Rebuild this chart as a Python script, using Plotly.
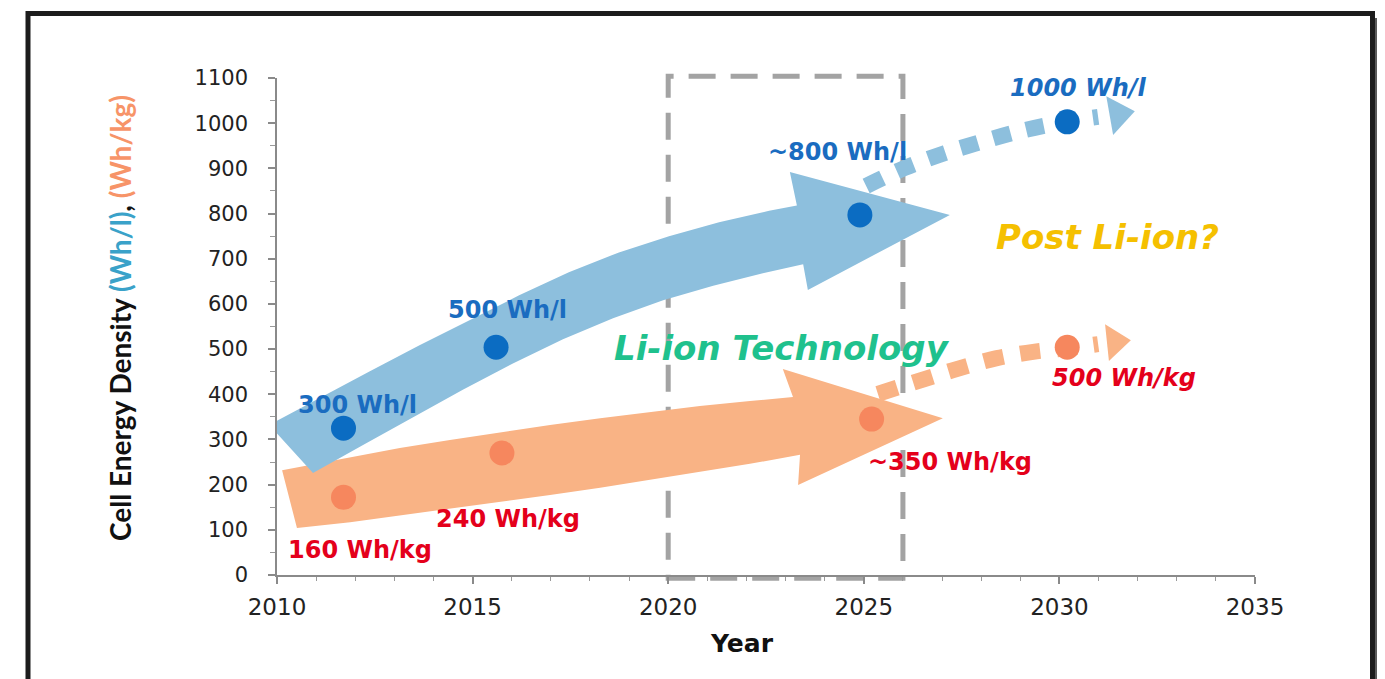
import plotly.graph_objects as go

# ---------------- data ----------------
years_whl = [2011.7, 2015.6, 2024.9, 2030.2]
vals_whl = [325, 504, 797, 1003]
labels_whl = ["300 Wh/l", "500 Wh/l", "~800 Wh/l", "1000 Wh/l"]

years_whkg = [2011.7, 2015.75, 2025.2, 2030.2]
vals_whkg = [172, 270, 345, 504]
labels_whkg = ["160 Wh/kg", "240 Wh/kg", "~350 Wh/kg", "500 Wh/kg"]

x_ticks = [2010, 2015, 2020, 2025, 2030, 2035]
y_ticks = [0, 100, 200, 300, 400, 500, 600, 700, 800, 900, 1000, 1100]

# Li-ion trend arrows (outline, year / value)
blue_arrow_x = [2009.80, 2011.07, 2012.35, 2013.63, 2014.91, 2016.19, 2017.46, 2018.74, 2020.02, 2021.30,
                2022.58, 2023.29,
                2023.11, 2027.20, 2023.57, 2023.45,
                2022.42, 2021.15, 2019.87, 2018.59, 2017.31, 2016.03, 2014.75, 2013.48, 2012.20, 2010.92]
blue_arrow_y = [332, 391, 450, 508, 564, 619, 670, 714, 750, 781,
                806, 818,
                892, 797, 631, 688,
                668, 640, 608, 568, 522, 468, 410, 350, 288, 226]
orange_arrow_x = [2010.13, 2011.87, 2013.14, 2014.42, 2015.70, 2016.98, 2018.26, 2019.54, 2020.81, 2022.09, 2023.19,
                  2022.93, 2027.02, 2023.32, 2023.37,
                  2022.09, 2020.81, 2019.54, 2018.26, 2016.98, 2015.70, 2014.42, 2013.14, 2011.87, 2010.51]
orange_arrow_y = [232, 261, 281, 299, 316, 332, 347, 361, 374, 385, 394,
                  456, 347, 199, 266,
                  246, 228, 210, 193, 177, 162, 146, 131, 117, 104]

# Post Li-ion projection paths (last point = arrow head)
blue_future_x = [2025.06, 2026.05, 2027.08, 2028.10, 2029.12, 2030.14, 2030.99, 2031.50]
blue_future_y = [861, 901, 934, 961, 985, 1003, 1014, 1020]
orange_future_x = [2025.36, 2026.49, 2027.46, 2028.40, 2029.33, 2030.19, 2030.99, 2031.42]
orange_future_y = [401, 432, 458, 480, 494, 502, 511, 516]

# Li-ion window (years)
window_years = [2020, 2026]

# ---------------- figure ----------------
OFF = 8                      # page body margin
W, H = 1385 - OFF, 679 - OFF
ML, MT = 277 - OFF, 78 - OFF
MR = W - (1255 - OFF)
MB = H - (575 - OFF)
XR = [2010, 2035]
YR = [0, 1100]

BLUE_FILL = "#8DBFDD"
ORANGE_FILL = "#F9B385"
BLUE_DOT = "#0B6CC2"
ORANGE_DOT = "#F6875E"

fig = go.Figure()

fig.add_trace(go.Scatter(x=orange_arrow_x + orange_arrow_x[:1], y=orange_arrow_y + orange_arrow_y[:1],
                         mode="lines", fill="toself", fillcolor=ORANGE_FILL,
                         line=dict(width=0, color=ORANGE_FILL), hoverinfo="skip", showlegend=False))
fig.add_trace(go.Scatter(x=blue_arrow_x + blue_arrow_x[:1], y=blue_arrow_y + blue_arrow_y[:1],
                         mode="lines", fill="toself", fillcolor=BLUE_FILL,
                         line=dict(width=0, color=BLUE_FILL), hoverinfo="skip", showlegend=False))

# dotted projections
fig.add_trace(go.Scatter(x=blue_future_x[:-1], y=blue_future_y[:-1], mode="lines",
                         line=dict(color=BLUE_FILL, width=16, dash="18px,16px", shape="spline"),
                         hoverinfo="skip", showlegend=False))
fig.add_trace(go.Scatter(x=orange_future_x[:-1], y=orange_future_y[:-1], mode="lines",
                         line=dict(color=ORANGE_FILL, width=16, dash="20px,17px", shape="spline"),
                         hoverinfo="skip", showlegend=False))
fig.add_trace(go.Scatter(x=blue_future_x[-1:], y=blue_future_y[-1:], mode="markers",
                         marker=dict(symbol="triangle-right", size=34, color=BLUE_FILL, angle=-10,
                                     line=dict(width=0)),
                         hoverinfo="skip", showlegend=False, cliponaxis=False))
fig.add_trace(go.Scatter(x=orange_future_x[-1:], y=orange_future_y[-1:], mode="markers",
                         marker=dict(symbol="triangle-right", size=32, color=ORANGE_FILL, angle=-6,
                                     line=dict(width=0)),
                         hoverinfo="skip", showlegend=False, cliponaxis=False))

# data dots
fig.add_trace(go.Scatter(x=years_whl, y=vals_whl, mode="markers", name="Wh/l",
                         marker=dict(size=25, color=BLUE_DOT, line=dict(width=0)),
                         showlegend=False, cliponaxis=False))
fig.add_trace(go.Scatter(x=years_whkg, y=vals_whkg, mode="markers", name="Wh/kg",
                         marker=dict(size=25, color=ORANGE_DOT, line=dict(width=0)),
                         showlegend=False, cliponaxis=False))

# ---------------- annotations ----------------
LBL_FONT = "DejaVu Sans"
whl_pos = [(2012.07, 376), (2015.88, 587), (2024.34, 936), (2030.48, 1078)]
whl_italic = [False, False, False, True]
whkg_pos = [(2012.12, 55), (2015.90, 124), (2027.20, 250), (2031.65, 436)]
whkg_italic = [False, False, False, True]

ann = []
for t, (x, y), it in zip(labels_whl, whl_pos, whl_italic):
    txt = f"<b><i>{t}</i></b>" if it else f"<b>{t}</b>"
    ann.append(dict(x=x, y=y, xref="x", yref="y", text=txt, showarrow=False,
                    xanchor="center", yanchor="middle",
                    font=dict(family=LBL_FONT, size=24, color="#1A6CC0")))
for t, (x, y), it in zip(labels_whkg, whkg_pos, whkg_italic):
    txt = f"<b><i>{t}</i></b>" if it else f"<b>{t}</b>"
    ann.append(dict(x=x, y=y, xref="x", yref="y", text=txt, showarrow=False,
                    xanchor="center", yanchor="middle",
                    font=dict(family=LBL_FONT, size=24, color="#E4001B")))

ann.append(dict(x=2022.91, y=502, xref="x", yref="y", text="<b><i>Li-ion Technology</i></b>",
                showarrow=False, xanchor="center", yanchor="middle",
                font=dict(family=LBL_FONT, size=34, color="#1FC18D")))
ann.append(dict(x=2031.24, y=748, xref="x", yref="y", text="<b><i>Post Li-ion?</i></b>",
                showarrow=False, xanchor="center", yanchor="middle",
                font=dict(family=LBL_FONT, size=34, color="#F5C000")))

pw, ph = W - ML - MR, H - MT - MB
def px_x(p):  # reference-screen pixel -> paper fraction
    return (p - OFF - ML) / pw
def px_y(p):
    return (H - MB - (p - OFF)) / ph

# axis titles
ann.append(dict(x=px_x(120), y=px_y(318), xref="paper", yref="paper",
                xanchor="center", yanchor="middle",
                text='<b>Cell Energy Density <span style="color:#3AA2C9">(Wh/l)</span>, '
                     '<span style="color:#F79468">(Wh/kg)</span></b>',
                textangle=-90, showarrow=False, font=dict(family="Lato", size=28, color="#111")))
ann.append(dict(x=px_x(742), y=px_y(643), xref="paper", yref="paper",
                xanchor="center", yanchor="middle",
                text="<b>Year</b>", showarrow=False, font=dict(family="DejaVu Sans", size=25, color="#111")))

# ---------------- shapes ----------------
shapes = [
    # Li-ion window dashed box
    dict(type="rect", xref="paper", yref="paper",
         x0=(window_years[0] - XR[0]) / (XR[1] - XR[0]), x1=(window_years[1] - XR[0]) / (XR[1] - XR[0]),
         y0=-7 / (YR[1] - YR[0]), y1=1104 / (YR[1] - YR[0]),
         line=dict(color="#A3A3A3", width=5, dash="27px,15px"), layer="below"),
    # frame shadow
    dict(type="rect", xref="paper", yref="paper", x0=px_x(1375), x1=px_x(1390), y0=px_y(700), y1=px_y(18),
         fillcolor="#5A5A5A", line=dict(width=0), layer="above"),
    # frame
    dict(type="rect", xref="paper", yref="paper", x0=px_x(28), x1=px_x(1372.5), y0=px_y(700), y1=px_y(13.5),
         line=dict(color="#1C1C1C", width=5), layer="above"),
]

fig.update_layout(
    width=W, height=H,
    margin=dict(l=ML, r=MR, t=MT, b=MB, autoexpand=False),
    paper_bgcolor="white", plot_bgcolor="white",
    showlegend=False,
    annotations=ann, shapes=shapes,
    xaxis=dict(range=XR, tickvals=x_ticks, ticks="outside", ticklen=7, tickwidth=1.5, tickcolor="#8A8A8A",
               showline=True, linecolor="#8A8A8A", linewidth=1.5, showgrid=False, zeroline=False,
               minor=dict(dtick=1, ticks="outside", ticklen=4, tickcolor="#9A9A9A", tickwidth=1),
               tickfont=dict(family="DejaVu Sans", size=23, color="#222"), ticklabelstandoff=4),
    yaxis=dict(range=YR, tickvals=y_ticks, ticks="outside", ticklen=7, tickwidth=1.5, tickcolor="#8A8A8A",
               showline=True, linecolor="#8A8A8A", linewidth=1.5, showgrid=False, zeroline=False,
               minor=dict(dtick=50, ticks="outside", ticklen=5, tickcolor="#9A9A9A", tickwidth=1),
               tickfont=dict(family="DejaVu Sans", size=21, color="#222"), ticklabelstandoff=16),
)

fig.write_html("out.html")
